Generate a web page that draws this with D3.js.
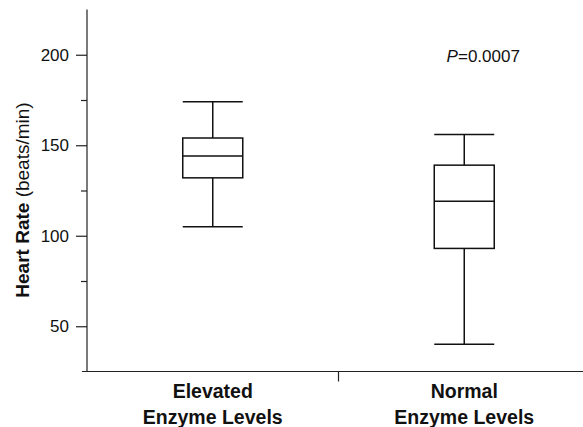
<!DOCTYPE html>
<html>
<head>
<meta charset="utf-8">
<script src="https://cdn.jsdelivr.net/npm/d3@7"></script>
<style>
  html, body { margin: 0; padding: 0; background: #fff; }
  svg { display: block; font-family: "Liberation Sans", Arial, Helvetica, sans-serif; }
</style>
</head>
<body>
<svg id="chart" width="583" height="427"></svg>
<script>
// ---- data ----
const categories = ["Elevated\nEnzyme Levels", "Normal\nEnzyme Levels"];
const whiskerLow  = [105, 40];
const q1          = [132, 93];
const medians     = [144, 119];
const q3          = [154, 139];
const whiskerHigh = [174, 156];
const majorTicks  = [50, 100, 150, 200];
const minorTicks  = [75, 125, 175];
const yDomain     = [25, 225];
const pLabel      = { italic: "P", rest: "=0.0007" };
const yTitleBold  = "Heart Rate";
const yTitleRest  = " (beats/min)";

// ---- layout ----
const svg = d3.select("#chart");
const y = d3.scaleLinear().domain(yDomain).range([371.5, 9.5]);
const x = d3.scaleBand().domain(categories).range([87, 590]).padding(0);
const cx = c => x(c) + x.bandwidth() / 2;
const boxW = 60;
const axisColor = "#222";

// Y axis (major)
const gY = svg.append("g").attr("transform", "translate(87,0)");
gY.call(d3.axisLeft(y).tickValues(majorTicks).tickSize(11).tickSizeOuter(0).tickPadding(7).tickFormat(d3.format("d")));
gY.select(".domain").remove();
gY.selectAll(".tick line").attr("stroke", axisColor).attr("stroke-width", 1.2);
gY.selectAll(".tick text").attr("font-size", "17px").attr("fill", "#111")
  .attr("font-family", "'Liberation Sans', Arial, sans-serif");
// Y axis (minor)
const gYm = svg.append("g").attr("transform", "translate(87,0)");
gYm.call(d3.axisLeft(y).tickValues(minorTicks).tickSize(6).tickSizeOuter(0).tickFormat(""));
gYm.select(".domain").remove();
gYm.selectAll(".tick line").attr("stroke", axisColor).attr("stroke-width", 1.2);
// Y axis line
svg.append("line").attr("x1", 87).attr("x2", 87).attr("y1", y(yDomain[1])).attr("y2", y(yDomain[0]))
  .attr("stroke", axisColor).attr("stroke-width", 1.2);

// X axis line + separator tick
svg.append("line").attr("x1", 82).attr("x2", 583).attr("y1", y(yDomain[0])).attr("y2", y(yDomain[0]))
  .attr("stroke", axisColor).attr("stroke-width", 1.2);
svg.append("line").attr("x1", x(categories[1])).attr("x2", x(categories[1]))
  .attr("y1", y(yDomain[0])).attr("y2", y(yDomain[0]) + 10)
  .attr("stroke", axisColor).attr("stroke-width", 1.2);

// X labels
categories.forEach(c => {
  const t = svg.append("text").attr("text-anchor", "middle").attr("font-size", "19.5px")
    .attr("font-weight", "bold").attr("fill", "#111");
  c.split("\n").forEach((line, i) => {
    t.append("tspan").attr("x", cx(c)).attr("y", 398 + i * 26).text(line);
  });
});

// Boxes
const g = svg.append("g").attr("stroke", "#111").attr("stroke-width", 1.5).attr("fill", "none");
categories.forEach((c, i) => {
  const m = cx(c);
  g.append("line").attr("x1", m).attr("x2", m).attr("y1", y(whiskerHigh[i])).attr("y2", y(q3[i]));
  g.append("line").attr("x1", m).attr("x2", m).attr("y1", y(q1[i])).attr("y2", y(whiskerLow[i]));
  g.append("line").attr("x1", m - boxW / 2).attr("x2", m + boxW / 2).attr("y1", y(whiskerHigh[i])).attr("y2", y(whiskerHigh[i]));
  g.append("line").attr("x1", m - boxW / 2).attr("x2", m + boxW / 2).attr("y1", y(whiskerLow[i])).attr("y2", y(whiskerLow[i]));
  g.append("rect").attr("x", m - boxW / 2).attr("width", boxW)
    .attr("y", y(q3[i])).attr("height", y(q1[i]) - y(q3[i])).attr("fill", "#fff");
  g.append("line").attr("x1", m - boxW / 2).attr("x2", m + boxW / 2).attr("y1", y(medians[i])).attr("y2", y(medians[i]));
});

// P-value label
const p = svg.append("text").attr("x", cx(categories[1]) + 19).attr("y", 61.7)
  .attr("text-anchor", "middle").attr("font-size", "17px").attr("fill", "#111");
p.append("tspan").attr("font-style", "italic").text(pLabel.italic);
p.append("tspan").text(pLabel.rest);

// Y title
const yt = svg.append("text").attr("transform", "translate(29,200) rotate(-90)")
  .attr("text-anchor", "middle").attr("font-size", "19px").attr("fill", "#111");
yt.append("tspan").attr("font-weight", "bold").text(yTitleBold);
yt.append("tspan").text(yTitleRest);
</script>
</body>
</html>
